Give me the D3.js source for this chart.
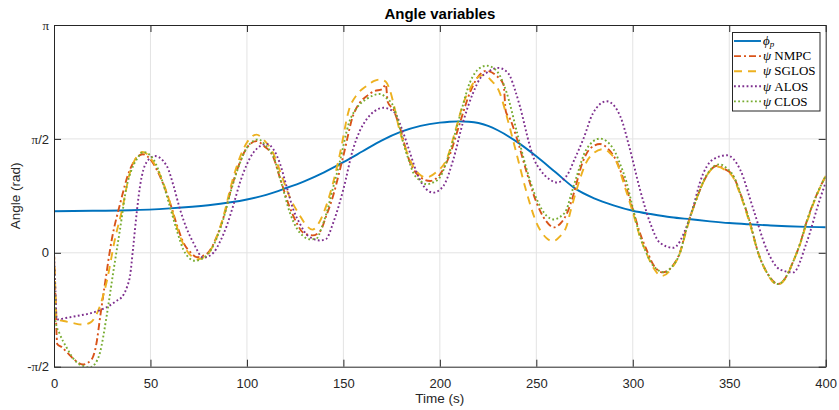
<!DOCTYPE html>
<html>
<head>
<meta charset="utf-8">
<script src="https://cdn.jsdelivr.net/npm/d3@7"></script>
<style>
  html, body { margin: 0; padding: 0; background: #fff; }
  svg { display: block; }
</style>
</head>
<body>
<svg id="chart" width="839" height="410"></svg>
<script>
// Time axis ticks (s) and angle ticks (rad)
const timeTicks = [0, 50, 100, 150, 200, 250, 300, 350, 400];
const angleTicks = [-Math.PI / 2, 0, Math.PI / 2, Math.PI];
const angleTickLabels = [["-", "π", "/2"], ["", "", "0"], ["", "π", "/2"], ["", "π", ""]];

// Path angle phi_p: [time s, angle rad]
const phiP = [[0,0.572],[20,0.579],[40,0.586],[60,0.612],[80,0.656],[100,0.735],[110,0.800],[120,0.890],[130,0.990],[140,1.110],[150,1.250],[160,1.40],[170,1.551],[180,1.670],[190,1.750],[200,1.795],[205,1.808],[210,1.813],[215,1.808],[220,1.790],[225,1.750],[230,1.690],[240,1.530],[250,1.331],[260,1.11],[270,0.889],[280,0.752],[290,0.655],[300,0.580],[310,0.531],[320,0.49],[330,0.462],[340,0.434],[350,0.410],[360,0.393],[370,0.379],[380,0.367],[390,0.358],[400,0.352]];

// Heading psi, NMPC
const psiNMPC = [[0,0],[0.6,-0.5],[1.7,-1.26],[4,-1.30],[7,-1.38],[10,-1.46],[15,-1.54],[19.5,-1.47],[22,-1.25],[24,-0.87],[26.5,-0.41],[30,0.19],[34,0.65],[39.4,1.15],[46,1.36],[51,1.25],[55.5,1.02],[60,0.70],[64,0.36],[67,0.145],[71,0.0],[74,-0.06],[79,-0.02],[84,0.20],[88,0.50],[92,0.90],[96.4,1.25],[100,1.45],[105,1.54],[109,1.47],[113.5,1.33],[117.5,1.0],[122,0.64],[126,0.40],[129,0.28],[134,0.24],[138,0.30],[141,0.50],[144.6,0.78],[150,1.34],[155,1.89],[158.5,2.07],[162,2.16],[166,2.23],[170,2.255],[172,2.32],[173,2.08],[176,1.97],[179,1.75],[184.5,1.25],[190,1.04],[195,0.99],[200,1.08],[205,1.34],[210.5,1.80],[215.6,2.21],[220.8,2.46],[224,2.51],[229.4,2.44],[233,2.32],[234.2,1.95],[236.5,1.84],[240,1.57],[245,1.11],[250,0.70],[255,0.44],[259,0.35],[263,0.42],[266,0.55],[269,0.78],[274,1.25],[278,1.44],[283,1.50],[287,1.44],[291.8,1.25],[296,0.95],[300,0.60],[304,0.25],[307,0.05],[311,-0.18],[315.6,-0.27],[320,-0.20],[324.5,0.01],[328,0.35],[333,0.74],[338,1.05],[343.6,1.20],[348,1.15],[352,1.06],[356,0.80],[360.7,0.42],[365,0.0],[369.5,-0.27],[375.3,-0.43],[379,-0.35],[383,-0.13],[387,0.15],[390,0.42],[395,0.78],[400,1.06]];

// Heading psi, SGLOS
const psiSGLOS = [[0,0],[0.7,-0.5],[1.4,-0.92],[5,-0.94],[10,-0.97],[15,-0.99],[19,-0.96],[22,-0.85],[24,-0.72],[27.3,-0.40],[31.6,0.19],[35,0.56],[39.4,1.11],[43,1.33],[46,1.39],[51,1.27],[55.5,1.04],[60,0.70],[64,0.33],[67,0.12],[71,-0.04],[74,-0.09],[79,-0.04],[84,0.20],[88,0.52],[92,0.95],[96.4,1.32],[100,1.52],[105,1.63],[109,1.55],[113.5,1.38],[117.5,1.10],[122,0.78],[127.5,0.51],[131,0.37],[134,0.32],[137.5,0.42],[141,0.64],[144.5,0.95],[148,1.34],[153,1.98],[157,2.18],[162,2.30],[166,2.37],[169,2.39],[172,2.36],[174,2.25],[176.5,2.0],[179,1.70],[182.5,1.42],[186,1.20],[190,1.07],[193,1.04],[198,1.11],[203.5,1.29],[208.7,1.75],[212,2.05],[215.6,2.26],[220.8,2.44],[223,2.45],[226.5,2.38],[231,2.21],[234.6,1.89],[240,1.34],[245,0.83],[250,0.42],[255,0.21],[258.6,0.16],[262,0.22],[265.7,0.37],[268,0.60],[271,0.88],[276,1.25],[280,1.38],[284.6,1.43],[288,1.38],[291.6,1.25],[296,0.90],[300,0.56],[304,0.20],[307,0.0],[311,-0.22],[315,-0.32],[320,-0.22],[324.5,0.0],[328,0.33],[333,0.74],[338,1.05],[343.5,1.19],[348,1.14],[352,1.04],[356,0.78],[360.7,0.40],[365,0.0],[369.5,-0.28],[375.3,-0.44],[379,-0.36],[383,-0.13],[387,0.14],[390,0.40],[395,0.77],[400,1.06]];

// Heading psi, ALOS
const psiALOS = [[0,0],[0.7,-0.5],[1.4,-0.92],[6,-0.90],[12,-0.87],[18,-0.84],[24,-0.79],[28,-0.74],[32,-0.67],[36,-0.58],[38,-0.46],[39.4,-0.32],[41.1,0.09],[42.9,0.56],[44.6,0.92],[48,1.25],[52.3,1.335],[58.4,1.20],[62,0.92],[65.3,0.60],[69,0.32],[72.2,0.14],[77.4,-0.066],[82.6,0.0],[86,0.15],[89.5,0.37],[93,0.66],[96.4,0.97],[100,1.22],[103.3,1.38],[110.2,1.50],[117,1.24],[120.5,0.92],[124,0.60],[127.5,0.40],[131,0.25],[138,0.17],[141,0.19],[144.8,0.42],[150,0.876],[155,1.43],[158.5,1.68],[162,1.84],[166,1.95],[170.7,2.00],[174,1.98],[177.6,1.89],[180,1.73],[182.8,1.52],[185.5,1.30],[188,1.106],[193,0.876],[196.6,0.83],[201.8,0.92],[207,1.29],[212,1.80],[217.3,2.21],[221,2.41],[224.3,2.485],[230.3,2.55],[233.5,2.52],[236.3,2.44],[238.9,2.25],[241.5,2.02],[246.7,1.47],[249,1.28],[251.9,1.15],[257,1.01],[260.5,0.97],[265.7,1.06],[270,1.30],[274.3,1.565],[279.5,1.93],[286.5,2.09],[293.4,1.89],[298.5,1.43],[303.7,0.876],[308.9,0.42],[314,0.14],[321,0.07],[328,0.37],[331.5,0.65],[334.8,0.97],[341.7,1.29],[348.7,1.345],[355.6,1.15],[362.5,0.60],[369.4,0.048],[376.3,-0.23],[383.2,-0.27],[390.1,0.14],[397,0.74],[400,0.97]];

// Heading psi, CLOS
const psiCLOS = [[0,0],[0.8,-0.95],[3,-1.12],[6.6,-1.31],[11.7,-1.51],[15,-1.56],[18.7,-1.58],[21,-1.54],[23.8,-1.38],[27.3,-0.87],[30.7,-0.27],[34.2,0.32],[37.7,0.92],[40,1.13],[42.9,1.29],[46.3,1.39],[51.5,1.29],[56,1.0],[60,0.645],[64,0.28],[67,0.048],[70,-0.07],[73,-0.11],[79,-0.04],[84,0.18],[87.7,0.46],[92,0.88],[96.4,1.24],[100,1.45],[105.9,1.565],[110,1.47],[113.7,1.33],[118,0.95],[122.3,0.55],[126,0.33],[129.2,0.23],[132.7,0.186],[136.2,0.20],[138.5,0.33],[141.3,0.55],[144.5,0.88],[148,1.24],[153,1.80],[157,2.0],[162,2.12],[169,2.19],[172.5,2.13],[175.9,2.02],[178.5,1.80],[181,1.52],[183.6,1.30],[186.2,1.106],[190,0.99],[193.2,0.945],[196.5,0.97],[200,1.04],[205,1.38],[210.4,1.89],[215.6,2.35],[220.8,2.55],[224.3,2.58],[229.4,2.51],[234.6,2.21],[240,1.66],[245,1.15],[250.2,0.74],[255.4,0.51],[259,0.46],[262,0.49],[265.7,0.60],[268,0.80],[271,1.06],[276,1.43],[283,1.575],[290,1.43],[293.5,1.22],[296.8,0.97],[300,0.62],[303.7,0.23],[307,0.0],[310.6,-0.18],[316.7,-0.27],[320,-0.20],[324.5,0.0],[328,0.35],[333,0.74],[338,1.06],[345,1.22],[349,1.16],[352,1.07],[356,0.80],[360.7,0.42],[365,0.0],[369.5,-0.27],[375.3,-0.43],[379,-0.35],[383,-0.13],[387,0.15],[390,0.42],[395,0.78],[400,1.06]];

const seriesList = [
  { data: phiP,     color: "#0072BD", dash: null,      width: 1.9, curve: d3.curveMonotoneX, label: [["ϕ", "italic", false], ["p", "italic", true]] },
  { data: psiNMPC,  color: "#D95319", dash: "7,3,2,3", width: 1.9, curve: d3.curveMonotoneX, label: [["ψ", "italic", false], [" NMPC", "normal", false]] },
  { data: psiSGLOS, color: "#EDB120", dash: "8,6",     width: 1.9, curve: d3.curveMonotoneX, label: [["ψ", "italic", false], [" SGLOS", "normal", false]] },
  { data: psiALOS,  color: "#7E2F8E", dash: "1.8,2.4", width: 1.9, curve: d3.curveMonotoneX, label: [["ψ", "italic", false], [" ALOS", "normal", false]] },
  { data: psiCLOS,  color: "#77AC30", dash: "1.8,2.4", width: 1.9, curve: d3.curveMonotoneX, label: [["ψ", "italic", false], [" CLOS", "normal", false]] }
];

const svg = d3.select("#chart");
const L = 54, R = 825.7, T = 25, B = 366.7;
const x = d3.scaleLinear().domain([0, 400]).range([L, R]);
const y = d3.scaleLinear().domain([-Math.PI / 2, Math.PI]).range([B, T]);
const axisColor = "#262626";
const sans = "'Liberation Sans', Arial, Helvetica, sans-serif";
const serif = "'Liberation Serif', 'Times New Roman', serif";

// grid
const grid = svg.append("g");
grid.selectAll("line.gx").data(timeTicks.slice(1, -1)).join("line")
  .attr("x1", d => x(d)).attr("x2", d => x(d)).attr("y1", T).attr("y2", B)
  .attr("stroke", "#e3e3e3").attr("stroke-width", 1);
grid.selectAll("line.gy").data(angleTicks.slice(1, -1)).join("line")
  .attr("y1", d => y(d)).attr("y2", d => y(d)).attr("x1", L).attr("x2", R)
  .attr("stroke", "#e3e3e3").attr("stroke-width", 1);

// series
svg.append("clipPath").attr("id", "plotClip").append("rect")
  .attr("x", L).attr("y", T).attr("width", R - L).attr("height", B - T);
const plot = svg.append("g").attr("clip-path", "url(#plotClip)");
seriesList.forEach(s => {
  const line = d3.line().x(d => x(d[0])).y(d => y(d[1])).curve(s.curve);
  plot.append("path").datum(s.data)
    .attr("d", line).attr("fill", "none")
    .attr("stroke", s.color).attr("stroke-width", s.width)
    .attr("stroke-dasharray", s.dash)
    .attr("stroke-linejoin", "round");
});

// axes (box style, inward ticks on all sides)
const tickLen = 7;
const axB = svg.append("g").attr("transform", `translate(0,${B})`)
  .call(d3.axisBottom(x).tickValues(timeTicks).tickSizeInner(-tickLen).tickSizeOuter(0).tickPadding(12));
const axT = svg.append("g").attr("transform", `translate(0,${T})`)
  .call(d3.axisTop(x).tickValues(timeTicks).tickSizeInner(-tickLen).tickSizeOuter(0).tickFormat(""));
const axL = svg.append("g").attr("transform", `translate(${L},0)`)
  .call(d3.axisLeft(y).tickValues(angleTicks).tickSizeInner(-tickLen).tickSizeOuter(0).tickFormat(""));
const axR = svg.append("g").attr("transform", `translate(${R},0)`)
  .call(d3.axisRight(y).tickValues(angleTicks).tickSizeInner(-tickLen).tickSizeOuter(0).tickFormat(""));
[axB, axT, axL, axR].forEach(a => {
  a.select(".domain").attr("stroke", axisColor).attr("stroke-width", 1);
  a.selectAll(".tick line").attr("stroke", axisColor).attr("stroke-width", 1);
});
axB.selectAll(".tick text").attr("fill", axisColor)
  .style("font-family", sans).style("font-size", "13px");

// y tick labels with pi
angleTicks.forEach((v, i) => {
  const parts = angleTickLabels[i];
  const t = svg.append("text").attr("x", L - 5).attr("y", y(v)).attr("dy", "0.36em")
    .attr("text-anchor", "end").attr("fill", axisColor)
    .style("font-family", sans).style("font-size", "13px");
  if (parts[0]) t.append("tspan").text(parts[0]);
  if (parts[1]) t.append("tspan").style("font-family", serif).style("font-size", "13px").text(parts[1]);
  if (parts[2]) t.append("tspan").text(parts[2]);
});

// labels and title
svg.append("text").attr("x", (L + R) / 2).attr("y", 403).attr("text-anchor", "middle")
  .attr("fill", axisColor).style("font-family", sans).style("font-size", "13.5px").text("Time (s)");
svg.append("text").attr("transform", `translate(20,${(T + B) / 2}) rotate(-90)`)
  .attr("text-anchor", "middle").attr("fill", axisColor)
  .style("font-family", sans).style("font-size", "13.5px").text("Angle (rad)");
svg.append("text").attr("x", (L + R) / 2).attr("y", 19).attr("text-anchor", "middle")
  .attr("fill", "#000").style("font-family", sans).style("font-size", "15px")
  .style("font-weight", "bold").text("Angle variables");

// legend
const lg = svg.append("g");
lg.append("rect").attr("x", 732.5).attr("y", 32.5).attr("width", 87.5).attr("height", 78.5)
  .attr("fill", "#fff").attr("stroke", axisColor).attr("stroke-width", 1);
seriesList.forEach((s, i) => {
  const yy = 41 + i * 15.1;
  lg.append("line").attr("x1", 734).attr("x2", 761).attr("y1", yy).attr("y2", yy)
    .attr("stroke", s.color).attr("stroke-width", s.width).attr("stroke-dasharray", s.dash);
  const t = lg.append("text").attr("x", 763).attr("y", yy).attr("dy", "0.33em")
    .attr("fill", "#000").style("font-family", serif).style("font-size", "13px");
  s.label.forEach(([txt, style, sub]) => {
    const ts = t.append("tspan").style("font-style", style).text(txt);
    if (sub) ts.attr("dy", "2").style("font-size", "9px");
  });
});
</script>
</body>
</html>
